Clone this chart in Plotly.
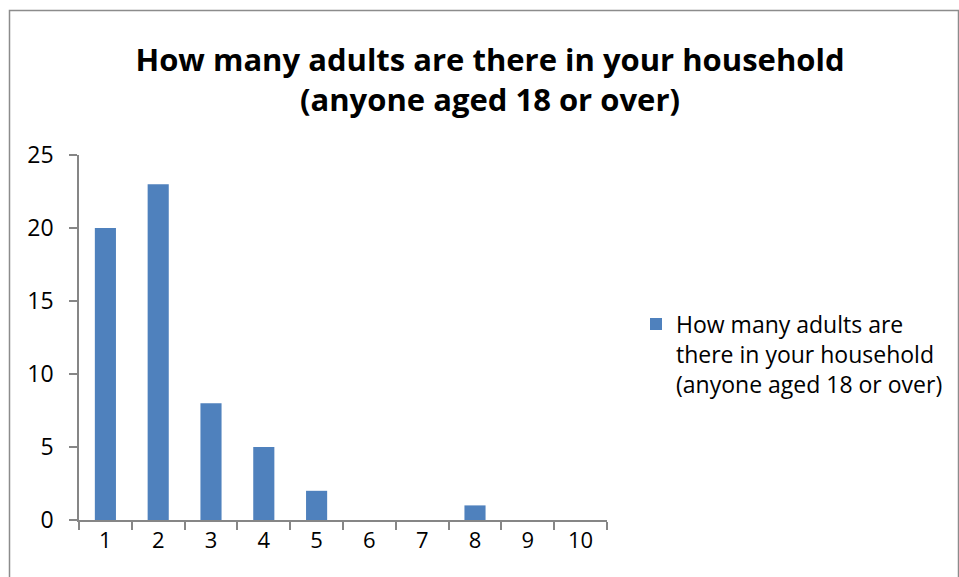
import plotly.graph_objects as go

categories = ["1", "2", "3", "4", "5", "6", "7", "8", "9", "10"]
counts = [20, 23, 8, 5, 2, 0, 0, 1, 0, 0]
series_name = "How many adults are there in your household<br>(anyone aged 18 or over)"
legend_label = "How many adults are<br>there in your household<br>(anyone aged 18 or over)"
y_ticks = [0, 5, 10, 15, 20, 25]

axis_color = "#868686"
font_family = "Open Sans, Noto Sans, sans-serif"

fig = go.Figure()
fig.add_trace(go.Bar(
    x=categories, y=counts, name=legend_label,
    marker=dict(color="#4F81BD", line=dict(width=0)),
    showlegend=True,
))

L, R, T, B = 79, 352, 155, 57
W, H = 959, 577
pw, ph = W - L - R, H - T - B

def px_x(p):
    return (p - L) / pw

def px_y(p):
    return (H - B - p) / ph

fig.update_layout(
    width=W, height=H,
    margin=dict(l=L, r=R, t=T, b=B, autoexpand=False),
    paper_bgcolor="white", plot_bgcolor="white",
    bargap=0.6,
    font=dict(family=font_family, size=22, color="black"),
    title=dict(
        text="<b>" + series_name + "</b>",
        x=490 / W, xanchor="center",
        y=1 - 71 / H, yanchor="middle",
        font=dict(family=font_family, size=31, color="black"),
    ),
    showlegend=True,
    legend=dict(
        x=px_x(636), xanchor="left",
        y=px_y(354), yanchor="middle",
        font=dict(family=font_family, size=23, color="black"),
        valign="top",
        itemsizing="constant",
        bgcolor="rgba(0,0,0,0)",
        tracegroupgap=0,
    ),
    xaxis=dict(
        type="category",
        showline=True, linecolor=axis_color, linewidth=1.5,
        ticks="outside", tickson="boundaries", ticklen=8, tickcolor=axis_color, tickwidth=1.5,
        showgrid=False, zeroline=False,
        tickfont=dict(size=22),
    ),
    yaxis=dict(
        range=[0, 25], tickvals=y_ticks,
        showline=True, linecolor=axis_color, linewidth=1.5,
        ticks="outside", ticklen=8, tickcolor=axis_color, tickwidth=1.5,
        showgrid=False, zeroline=False,
        tickfont=dict(size=23),
        ticklabelstandoff=11,
    ),
    shapes=[dict(
        type="rect", xref="paper", yref="paper",
        x0=px_x(9.5), x1=px_x(958.5), y0=px_y(590), y1=px_y(10.5),
        line=dict(color="#8c8c8c", width=1.5), fillcolor="rgba(0,0,0,0)", layer="below",
    )],
)

fig.write_html("out.html")
